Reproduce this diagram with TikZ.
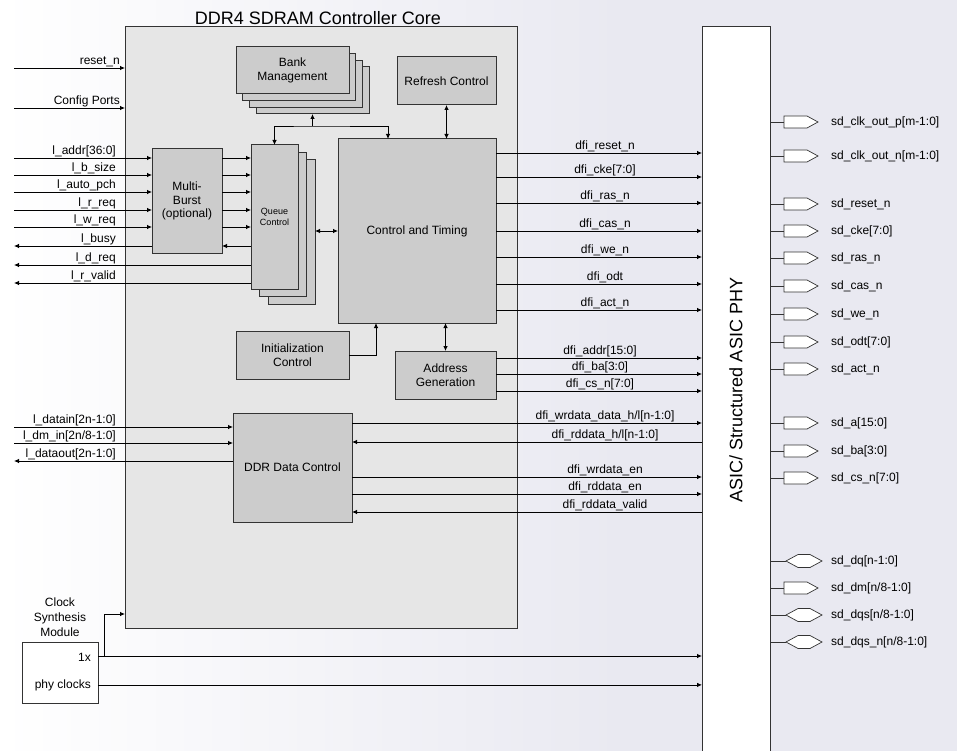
\documentclass[tikz,border=0pt]{standalone}
\usepackage{fontspec}
\setmainfont{Liberation Sans}
\usetikzlibrary{arrows.meta,positioning}

\definecolor{coregray}{HTML}{E6E6E6}
\definecolor{blkgray}{HTML}{CCCCCC}
\definecolor{edgegray}{HTML}{333333}
\definecolor{bgblue}{HTML}{E9E9F1}

\tikzset{
	blk/.style={draw=edgegray, line width=1pt, fill=blkgray, inner sep=0pt, outer sep=0pt, align=center},
	bankbox/.style={blk, minimum width=113pt, minimum height=47pt},
	queuebox/.style={blk, minimum width=47pt, minimum height=144pt},
	sig/.style={line width=0.8pt, -{Latex[length=5pt,width=4.5pt]}},
	rsig/.style={line width=0.8pt, {Latex[length=5pt,width=4.5pt]}-},
	bsig/.style={line width=0.8pt, {Latex[length=5pt,width=4.5pt]}-{Latex[length=5pt,width=4.5pt]}},
	llbl/.style={anchor=south east, inner sep=1pt},
	dlbl/.style={anchor=south, inner sep=1pt},
	plbl/.style={anchor=west, inner sep=0pt},
	pinline/.style={draw=edgegray, line width=0.7pt},
	opin/.pic={\draw[fill=white] (0,-6) -- (23,-6) -- (34,0) -- (23,6) -- (0,6) -- cycle;},
	iopin/.pic={\draw[fill=white] (0,0) -- (12,-6.5) -- (24,-6.5) -- (36,0) -- (24,6.5) -- (12,6.5) -- cycle;}
}

\begin{document}
\begin{tikzpicture}[x=1pt, y=-1pt, font=\fontsize{12}{14.5}\selectfont]
		\useasboundingbox (0,0) rectangle (957,751);
		\clip (0,0) rectangle (957,751);
		\shade[left color=white, right color=bgblue] (0,0) rectangle (621,751);
		\fill[bgblue] (620,0) rectangle (957,751);

		% core and phy
		\node[blk, fill=coregray, minimum width=392pt, minimum height=601pt] (core) at (321,327.5) {};
		\node[anchor=south, inner sep=0pt, font=\fontsize{18}{20}\selectfont] (title) at (318,25) {DDR4 SDRAM Controller Core};
		\node[blk, fill=white, minimum width=68pt, minimum height=740pt] (phy) at (736,397) {};
		\node[rotate=90, font=\fontsize{18}{20}\selectfont] (phylbl) at (736,390) {ASIC/ Structured ASIC PHY};

		% blocks
		\node[bankbox] (bank3) at (312.5,90.5) {};
		\node[bankbox] (bank2) at (305.8,83.8) {};
		\node[bankbox] (bank1) at (299.2,77.2) {};
		\node[bankbox] (bank) at (292.5,70.5) {Bank\\Management};
		\node[blk, minimum width=99pt, minimum height=48pt] (refresh) at (446.5,81) {Refresh Control};
		\node[queuebox] (queue2) at (291.5,232) {};
		\node[queuebox] (queue1) at (283,224.5) {};
		\node[queuebox, font=\fontsize{9}{11}\selectfont] (queue) at (274.5,217) {Queue\\Control};
		\node[blk, minimum width=70pt, minimum height=104pt, font=\fontsize{12}{13.5}\selectfont] (multi) at (187,201) {Multi-\\Burst\\(optional)};
		\node[blk, minimum width=158pt, minimum height=184pt] (ctrl) at (417,231) {Control and Timing};
		\node[blk, minimum width=113pt, minimum height=48pt] (init) at (292.5,355) {Initialization\\Control};
		\node[blk, minimum width=101pt, minimum height=48pt] (addr) at (445.5,375) {Address\\Generation};
		\node[blk, minimum width=119pt, minimum height=109pt] (ddr) at (292.5,467.5) {DDR Data Control};

		% internal links
		\coordinate (bus) at (312.5,126);
		\draw[bsig] (queue.north) |- (bus) -| (ctrl.north -| 388,0);
		\draw[sig] (bus) -- (bank3.south);
		\draw[bsig] (refresh.south) -- (ctrl.north -| refresh.south);
		\draw[bsig] (queue2.east |- ctrl.west) -- (ctrl.west);
		\draw[sig] (init.east) -| (ctrl.south -| 376,0);
		\draw[bsig] (addr.north) -- (ctrl.south -| addr.north);

		% user side
		\coordinate (lft) at (14,0);
		\node[llbl] (rst) at (121,68) {reset\_n};
		\node[llbl] (cfg) at (121,108) {Config Ports};
		\draw[sig] (lft |- rst.south) -- (core.west |- rst.south);
		\draw[sig] (lft |- cfg.south) -- (core.west |- cfg.south);
		\node[llbl] (laddr) at (117,158) {l\_addr[36:0]};
		\node[llbl] (lbsize) at (117,175) {l\_b\_size};
		\node[llbl] (lapch) at (117,192) {l\_auto\_pch};
		\node[llbl] (lrreq) at (117,210) {l\_r\_req};
		\node[llbl] (lwreq) at (117,227) {l\_w\_req};
		\node[llbl] (lbusy) at (117,246) {l\_busy};
		\node[llbl] (ldreq) at (117,265) {l\_d\_req};
		\node[llbl] (lrval) at (117,283) {l\_r\_valid};
		\draw[sig] (lft |- laddr.south) -- (multi.west |- laddr.south);
		\draw[sig] (lft |- lbsize.south) -- (multi.west |- lbsize.south);
		\draw[sig] (lft |- lapch.south) -- (multi.west |- lapch.south);
		\draw[sig] (lft |- lrreq.south) -- (multi.west |- lrreq.south);
		\draw[sig] (lft |- lwreq.south) -- (multi.west |- lwreq.south);
		\draw[rsig] (lft |- lbusy.south) -- (multi.west |- lbusy.south);
		\draw[rsig] (lft |- ldreq.south) -- (queue.west |- ldreq.south);
		\draw[rsig] (lft |- lrval.south) -- (queue.west |- lrval.south);
		\draw[sig] (multi.east |- laddr.south) -- (queue.west |- laddr.south);
		\draw[sig] (multi.east |- lbsize.south) -- (queue.west |- lbsize.south);
		\draw[sig] (multi.east |- lapch.south) -- (queue.west |- lapch.south);
		\draw[sig] (multi.east |- lrreq.south) -- (queue.west |- lrreq.south);
		\draw[sig] (multi.east |- lwreq.south) -- (queue.west |- lwreq.south);
		\draw[rsig] (multi.east |- lbusy.south) -- (queue.west |- lbusy.south);
		\node[llbl] (ldin) at (117,427) {l\_datain[2n-1:0]};
		\node[llbl] (ldm) at (117,443) {l\_dm\_in[2n/8-1:0]};
		\node[llbl] (ldout) at (117,461) {l\_dataout[2n-1:0]};
		\draw[sig] (lft |- ldin.south) -- (ddr.west |- ldin.south);
		\draw[sig] (lft |- ldm.south) -- (ddr.west |- ldm.south);
		\draw[rsig] (lft |- ldout.south) -- (ddr.west |- ldout.south);

		% dfi side
		\node[dlbl] (dres) at (605,153) {dfi\_reset\_n};
		\node[dlbl] (dcke) at (605,177) {dfi\_cke[7:0]};
		\node[dlbl] (dras) at (605,203) {dfi\_ras\_n};
		\node[dlbl] (dcas) at (605,231) {dfi\_cas\_n};
		\node[dlbl] (dwe) at (605,257) {dfi\_we\_n};
		\node[dlbl] (dodt) at (605,284) {dfi\_odt};
		\node[dlbl] (dact) at (605,310) {dfi\_act\_n};
		\draw[sig] (ctrl.east |- dres.south) -- (phy.west |- dres.south);
		\draw[sig] (ctrl.east |- dcke.south) -- (phy.west |- dcke.south);
		\draw[sig] (ctrl.east |- dras.south) -- (phy.west |- dras.south);
		\draw[sig] (ctrl.east |- dcas.south) -- (phy.west |- dcas.south);
		\draw[sig] (ctrl.east |- dwe.south) -- (phy.west |- dwe.south);
		\draw[sig] (ctrl.east |- dodt.south) -- (phy.west |- dodt.south);
		\draw[sig] (ctrl.east |- dact.south) -- (phy.west |- dact.south);
		\node[dlbl] (daddr) at (600,358) {dfi\_addr[15:0]};
		\node[dlbl] (dba) at (600,374) {dfi\_ba[3:0]};
		\node[dlbl] (dcs) at (600,391) {dfi\_cs\_n[7:0]};
		\draw[sig] (addr.east |- daddr.south) -- (phy.west |- daddr.south);
		\draw[sig] (addr.east |- dba.south) -- (phy.west |- dba.south);
		\draw[sig] (addr.east |- dcs.south) -- (phy.west |- dcs.south);
		\node[dlbl] (dwrd) at (605,423) {dfi\_wrdata\_data\_h/l[n-1:0]};
		\node[dlbl] (drdd) at (605,442) {dfi\_rddata\_h/l[n-1:0]};
		\node[dlbl] (dwren) at (605,477) {dfi\_wrdata\_en};
		\node[dlbl] (drden) at (605,494) {dfi\_rddata\_en};
		\node[dlbl] (drdv) at (605,512) {dfi\_rddata\_valid};
		\draw[sig] (ddr.east |- dwrd.south) -- (phy.west |- dwrd.south);
		\draw[rsig] (ddr.east |- drdd.south) -- (phy.west |- drdd.south);
		\draw[sig] (ddr.east |- dwren.south) -- (phy.west |- dwren.south);
		\draw[sig] (ddr.east |- drden.south) -- (phy.west |- drden.south);
		\draw[rsig] (ddr.east |- drdv.south) -- (phy.west |- drdv.south);

		% clocks
		\node[blk, fill=white, minimum width=76pt, minimum height=61pt] (clk) at (60,672.5) {};
		\node[anchor=south, inner sep=0pt, align=center, font=\fontsize{12}{15}\selectfont] (clklbl) at (60,637) {Clock\\Synthesis\\Module};
		\node[anchor=base east, inner sep=0pt] (x1) at (91,661) {1x};
		\node[anchor=base east, inner sep=0pt] (pclk) at (91,688) {phy clocks};
		\coordinate (ck) at (104,656);
		\coordinate (ckup) at (104,614);
		\draw[sig] (clk.east |- ck) -- (phy.west |- ck);
		\draw[sig] (ck) -- (ckup) -- (core.west |- ckup);
		\draw[sig] (clk.east |- pclk.east) -- (phy.west |- pclk.east);

		% memory pins
		\node[plbl] (pckp) at (831,122) {sd\_clk\_out\_p[m-1:0]};
		\node[plbl] (pckn) at (831,156) {sd\_clk\_out\_n[m-1:0]};
		\node[plbl] (prst) at (831,204) {sd\_reset\_n};
		\node[plbl] (pcke) at (831,231) {sd\_cke[7:0]};
		\node[plbl] (pras) at (831,258) {sd\_ras\_n};
		\node[plbl] (pcas) at (831,286) {sd\_cas\_n};
		\node[plbl] (pwe) at (831,314) {sd\_we\_n};
		\node[plbl] (podt) at (831,342) {sd\_odt[7:0]};
		\node[plbl] (pact) at (831,369) {sd\_act\_n};
		\node[plbl] (pa) at (831,423) {sd\_a[15:0]};
		\node[plbl] (pba) at (831,451) {sd\_ba[3:0]};
		\node[plbl] (pcs) at (831,478) {sd\_cs\_n[7:0]};
		\node[plbl] (pdq) at (831,561) {sd\_dq[n-1:0]};
		\node[plbl] (pdm) at (831,588) {sd\_dm[n/8-1:0]};
		\node[plbl] (pdqs) at (831,615) {sd\_dqs[n/8-1:0]};
		\node[plbl] (pdqsn) at (831,642) {sd\_dqs\_n[n/8-1:0]};
		\draw[pinline] (phy.east |- pckp.west) -- ++(14,0) pic {opin};
		\draw[pinline] (phy.east |- pckn.west) -- ++(14,0) pic {opin};
		\draw[pinline] (phy.east |- prst.west) -- ++(14,0) pic {opin};
		\draw[pinline] (phy.east |- pcke.west) -- ++(14,0) pic {opin};
		\draw[pinline] (phy.east |- pras.west) -- ++(14,0) pic {opin};
		\draw[pinline] (phy.east |- pcas.west) -- ++(14,0) pic {opin};
		\draw[pinline] (phy.east |- pwe.west) -- ++(14,0) pic {opin};
		\draw[pinline] (phy.east |- podt.west) -- ++(14,0) pic {opin};
		\draw[pinline] (phy.east |- pact.west) -- ++(14,0) pic {opin};
		\draw[pinline] (phy.east |- pa.west) -- ++(14,0) pic {opin};
		\draw[pinline] (phy.east |- pba.west) -- ++(14,0) pic {opin};
		\draw[pinline] (phy.east |- pcs.west) -- ++(14,0) pic {opin};
		\draw[pinline] (phy.east |- pdq.west) -- ++(16,0) pic {iopin};
		\draw[pinline] (phy.east |- pdm.west) -- ++(14,0) pic {opin};
		\draw[pinline] (phy.east |- pdqs.west) -- ++(16,0) pic {iopin};
		\draw[pinline] (phy.east |- pdqsn.west) -- ++(16,0) pic {iopin};
	\end{tikzpicture}
\end{document}
